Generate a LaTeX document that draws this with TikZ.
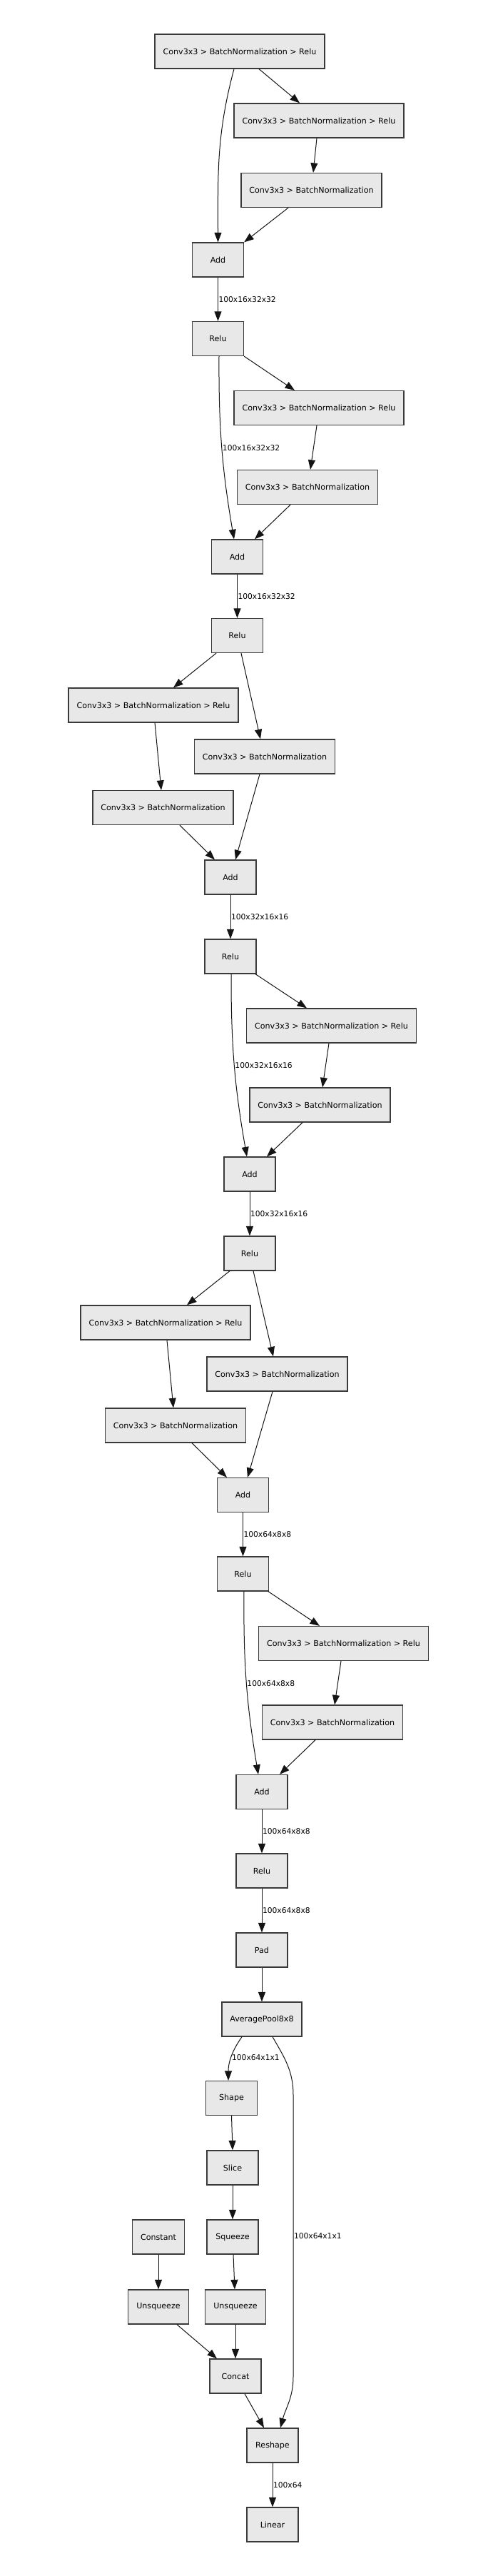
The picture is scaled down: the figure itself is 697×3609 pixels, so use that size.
\documentclass[tikz,border=0pt]{standalone}
\usepackage{fontspec}
\setmainfont{DejaVu Sans}
\usepackage{xcolor}
\definecolor{layer-fill}{RGB}{232,232,232}
\definecolor{layer-border}{RGB}{58,58,58}
\definecolor{edge-dark}{RGB}{20,20,20}
\usepackage{tikz}
\usetikzlibrary{arrows.meta}

\begin{document}
\begin{tikzpicture}[
    x=1pt, y=-1pt,
    layer/.style={
        draw=layer-border,
        fill=layer-fill,
        line width=1.3pt,
        minimum width=72pt,
        minimum height=48pt,
        inner xsep=11.5pt,
        font=\fontsize{11.1}{13}\selectfont
    },
    flow/.style={
        draw=edge-dark,
        line width=1pt,
        -{Triangle[length=13.5pt,width=10pt]}
    },
    dim label/.style={
        font=\fontsize{10.7}{12}\selectfont,
        anchor=west,
        inner xsep=0.5pt,
        inner ysep=0pt
    }
]

% Canvas
\path[use as bounding box, fill=white] (0,0) rectangle (697,3609);

% === BLOCK 1 ===
\node[layer] (c1) at (336,72) {Conv3x3 > BatchNormalization > Relu};
\node[layer] (c2) at (447,169) {Conv3x3 > BatchNormalization > Relu};
\node[layer] (c3) at (436.5,266.5) {Conv3x3 > BatchNormalization};
\node[layer] (add1) at (305.5,364) {Add};
\node[layer] (relu1) at (305.5,474.5) {Relu};

\draw[flow] ([xshift=27pt]c1.south) -- ([xshift=-27pt]c2.north);
\draw[flow] ([xshift=-8pt]c1.south) to[out=-105,in=90] (add1.north);
\draw[flow] ([xshift=-3pt]c2.south) -- ([xshift=2.5pt]c3.north);
\draw[flow] ([xshift=-32.5pt]c3.south) -- (add1.north east);
\draw[flow] (add1.south) -- node[dim label] {100x16x32x32} (relu1.north);

% === BLOCK 2 ===
\node[layer] (c4) at (447,571.5) {Conv3x3 > BatchNormalization > Relu};
\node[layer] (c5) at (431,682.5) {Conv3x3 > BatchNormalization};
\node[layer] (add2) at (332.5,780) {Add};
\node[layer] (relu2) at (332.5,890.5) {Relu};

\draw[flow] (relu1.south east) -- ([xshift=-34pt]c4.north);
\draw[flow] ([xshift=1.5pt]relu1.south) to[bend right=5] node[dim label, pos=0.5] {100x16x32x32} ([xshift=-4.5pt]add2.north);
\draw[flow] ([xshift=-3pt]c4.south) -- ([xshift=4pt]c5.north);
\draw[flow] ([xshift=-24pt]c5.south) -- ([xshift=24.5pt]add2.north);
\draw[flow] (add2.south) -- node[dim label] {100x16x32x32} (relu2.north);

% === BLOCK 3 ===
\node[layer] (c6) at (215,988) {Conv3x3 > BatchNormalization > Relu};
\node[layer] (c7) at (371,1060) {Conv3x3 > BatchNormalization};
\node[layer] (c8) at (228.5,1131.5) {Conv3x3 > BatchNormalization};
\node[layer] (add3) at (323,1229) {Add};
\node[layer] (relu3) at (323,1340) {Relu};

\draw[flow] ([xshift=-29.5pt]relu2.south) -- ([xshift=28pt]c6.north);
\draw[flow] ([xshift=5.5pt]relu2.south) -- ([xshift=-6pt]c7.north);
\draw[flow] ([xshift=2pt]c6.south) -- ([xshift=-2.5pt]c8.north);
\draw[flow] ([xshift=-7pt]c7.south) -- ([xshift=7pt]add3.north);
\draw[flow] ([xshift=23.5pt]c8.south) -- ([xshift=-22pt]add3.north);
\draw[flow] (add3.south) -- node[dim label] {100x32x16x16} (relu3.north);

% === BLOCK 4 ===
\node[layer] (c9) at (464.5,1437) {Conv3x3 > BatchNormalization > Relu};
\node[layer] (c10) at (448.5,1548) {Conv3x3 > BatchNormalization};
\node[layer] (add4) at (350,1645) {Add};
\node[layer] (relu4) at (350,1756) {Relu};

\draw[flow] ([xshift=35pt]relu3.south) -- ([xshift=-34.5pt]c9.north);
\draw[flow] ([xshift=1pt]relu3.south) to[bend right=5] node[dim label, pos=0.5] {100x32x16x16} ([xshift=-4pt]add4.north);
\draw[flow] ([xshift=-3.5pt]c9.south) -- ([xshift=3.5pt]c10.north);
\draw[flow] ([xshift=-24.5pt]c10.south) -- ([xshift=24pt]add4.north);
\draw[flow] (add4.south) -- node[dim label] {100x32x16x16} (relu4.north);

% === BLOCK 5 ===
\node[layer] (c11) at (232,1853) {Conv3x3 > BatchNormalization > Relu};
\node[layer] (c12) at (388.5,1925) {Conv3x3 > BatchNormalization};
\node[layer] (c13) at (246,1997) {Conv3x3 > BatchNormalization};
\node[layer] (add5) at (340.5,2094.5) {Add};
\node[layer] (relu5) at (340.5,2205) {Relu};

\draw[flow] ([xshift=-28pt]relu4.south) -- ([xshift=30pt]c11.north);
\draw[flow] ([xshift=5pt]relu4.south) -- ([xshift=-5.5pt]c12.north);
\draw[flow] ([xshift=2pt]c11.south) -- ([xshift=-3pt]c13.north);
\draw[flow] ([xshift=-6.5pt]c12.south) -- ([xshift=6.5pt]add5.north);
\draw[flow] ([xshift=23pt]c13.south) -- ([xshift=-22.5pt]add5.north);
\draw[flow] (add5.south) -- node[dim label] {100x64x8x8} (relu5.north);

% === BLOCK 6 ===
\node[layer] (c14) at (481.5,2302.5) {Conv3x3 > BatchNormalization > Relu};
\node[layer] (c15) at (466,2413) {Conv3x3 > BatchNormalization};
\node[layer] (add6) at (367,2510.5) {Add};
\node[layer] (relu6) at (367,2621) {Relu};

\draw[flow] ([xshift=35.5pt]relu5.south) -- ([xshift=-33.5pt]c14.north);
\draw[flow] ([xshift=1.5pt]relu5.south) to[bend right=5] node[dim label, pos=0.5] {100x64x8x8} ([xshift=-5pt]add6.north);
\draw[flow] ([xshift=-3.5pt]c14.south) -- ([xshift=3pt]c15.north);
\draw[flow] ([xshift=-24pt]c15.south) -- ([xshift=25pt]add6.north);
\draw[flow] (add6.south) -- node[dim label] {100x64x8x8} (relu6.north);

% === HEAD ===
\node[layer] (pad) at (367,2732) {Pad};
\node[layer] (pool) at (367,2829) {AveragePool8x8};
\node[layer] (shape) at (324.5,2939.5) {Shape};
\node[layer] (slice) at (326,3037) {Slice};
\node[layer] (constant) at (222,3134) {Constant};
\node[layer] (squeeze) at (326,3134) {Squeeze};
\node[layer] (unsqA) at (222,3232) {Unsqueeze};
\node[layer] (unsqB) at (330,3232) {Unsqueeze};
\node[layer] (concat) at (330,3329) {Concat};
\node[layer] (reshape) at (382,3426) {Reshape};
\node[layer] (linear) at (382,3537) {Linear};

% bypass route of the pooled tensor
\coordinate (bypass top) at (411,2935);
\coordinate (bypass bottom) at (411,3330);

\draw[flow] (relu6.south) -- node[dim label] {100x64x8x8} (pad.north);
\draw[flow] (pad.south) -- (pool.north);
\draw[flow] ([xshift=-28pt]pool.south) to[out=-125,in=90] node[dim label, pos=0.5] {100x64x1x1} ([xshift=-4.5pt]shape.north);
\draw[flow] ([xshift=15pt]pool.south) to[out=-60,in=90] (bypass top)
    -- node[dim label] {100x64x1x1} (bypass bottom)
    to[out=-90,in=75] ([xshift=11pt]reshape.north);
\draw[flow] (shape.south) -- (slice.north);
\draw[flow] (slice.south) -- (squeeze.north);
\draw[flow] ([xshift=1pt]squeeze.south) -- ([xshift=-1pt]unsqB.north);
\draw[flow] (constant.south) -- (unsqA.north);
\draw[flow] ([xshift=26pt]unsqA.south) -- ([xshift=-26pt]concat.north);
\draw[flow] (unsqB.south) -- (concat.north);
\draw[flow] ([xshift=13pt]concat.south) -- ([xshift=-12pt]reshape.north);
\draw[flow] (reshape.south) -- node[dim label] {100x64} (linear.north);

\end{tikzpicture}
\end{document}
